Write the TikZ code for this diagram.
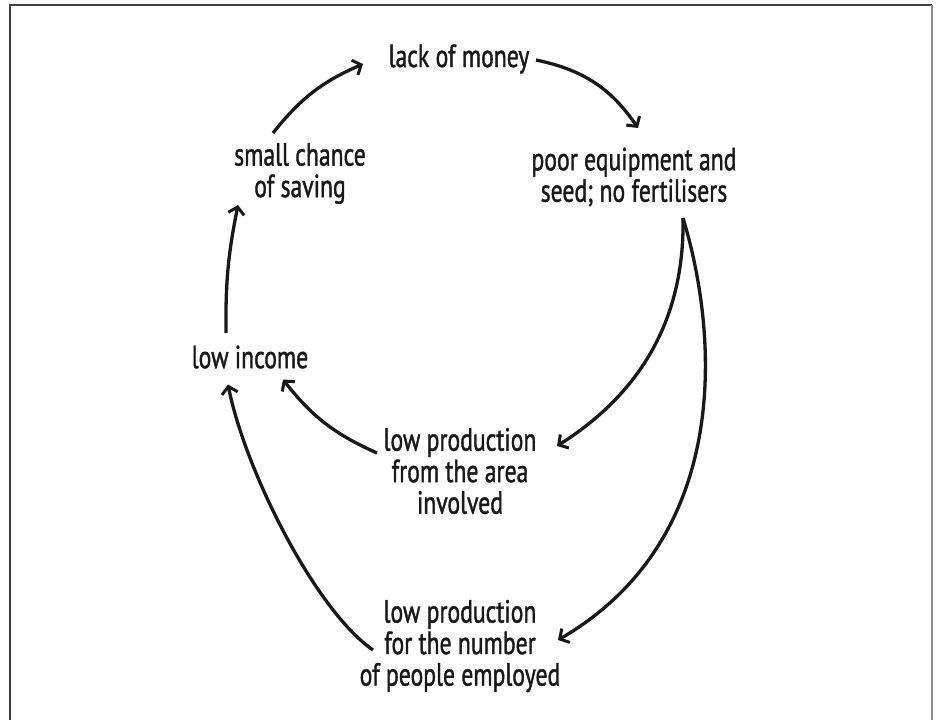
\documentclass[tikz,border=0pt]{standalone}
\usepackage{fontspec}
\setmainfont{PT Sans}[FakeStretch=0.74,FakeBold=1.2]
\usetikzlibrary{arrows.meta}
\begin{document}
\begin{tikzpicture}[x=1pt,y=-1pt,
  lbl/.style={align=center,inner sep=0pt,font=\fontsize{32}{31.5}\selectfont,text=black!90},
  arr/.style={line width=3.3pt,draw=black!90,-{Straight Barb[length=7pt,width=16pt,line width=3pt]}}]
\useasboundingbox (0,0) rectangle (940,720);
\fill[white] (0,0) rectangle (940,720);
\draw[line width=1.5pt,draw=black!75] (10,725) -- (10,5) -- (932,5);
\draw[line width=1.5pt,draw=black!45] (932,5) -- (932,725);

\node[lbl] (money) at (459,59) {lack of money};
\node[lbl] (small) at (300,173.5) {small chance\\of saving};
\node[lbl] (poor) at (634,177) {poor equipment and\\seed; no fertilisers};
\node[lbl] (income) at (250,357) {low income};
\node[lbl] (area) at (460,471) {low production\\from the area\\involved};
\node[lbl] (people) at (460,646) {low production\\for the number\\of people employed};

\draw[arr] ([shift={(-27,-40.5)}]small.center) to[bend left=14] ([shift={(-96,5)}]money.center);
\draw[arr] ([shift={(77,1)}]money.center) to[bend left=22] ([shift={(4,-49)}]poor.center);
\draw[arr] ([shift={(-24,-24)}]income.center) to[bend left=6] ([shift={(-62,31.5)}]small.center);
\draw[arr] ([shift={(49,41)}]poor.center) .. controls ([shift={(51,153)}]poor.center) and ([shift={(-4,223)}]poor.center) .. ([shift={(97,-25)}]area.center);
\draw[arr] ([shift={(49,41)}]poor.center) .. controls ([shift={(86,163)}]poor.center) and ([shift={(96,363)}]poor.center) .. ([shift={(98,-6)}]people.center);
\draw[arr] ([shift={(-83,-18)}]area.center) to[bend left=14] ([shift={(33,22.5)}]income.center);
\draw[arr] ([shift={(-87,4)}]people.center) .. controls ([shift={(-145,-36)}]people.center) and ([shift={(-215,-176)}]people.center) .. ([shift={(-22,27.5)}]income.center);
\end{tikzpicture}
\end{document}
